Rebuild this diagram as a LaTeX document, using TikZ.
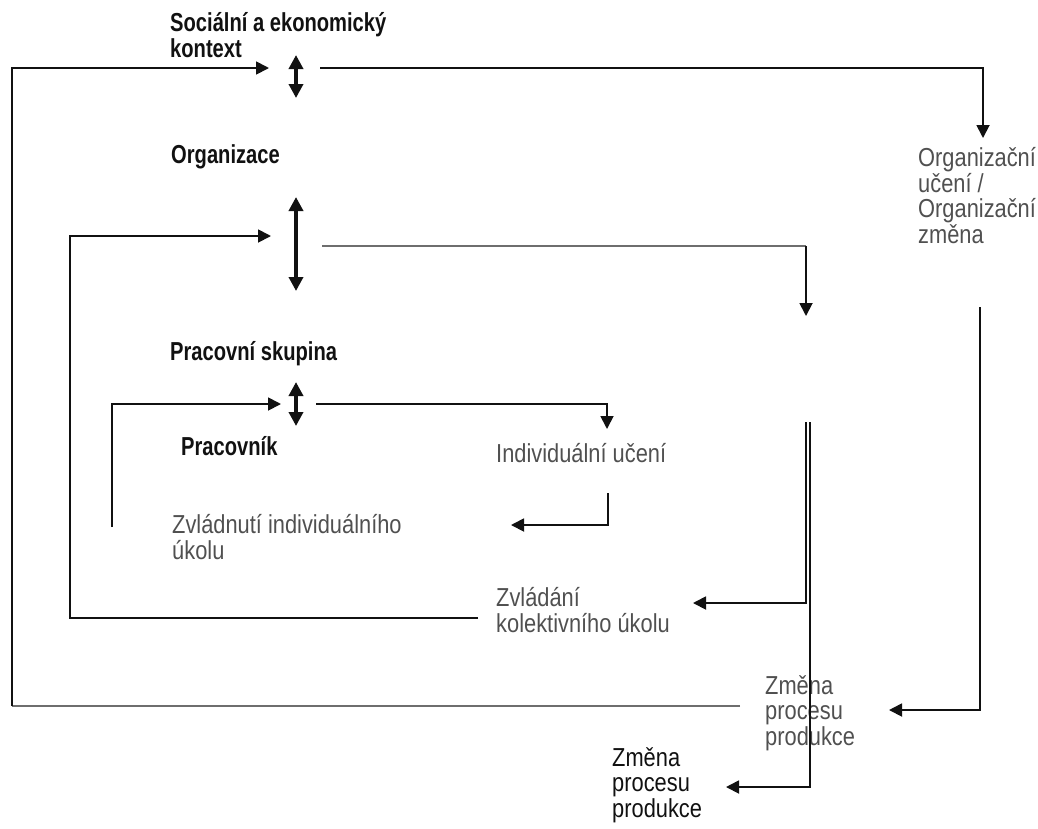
\documentclass[tikz,border=0pt]{standalone}
\usepackage{fontspec}
\setmainfont{Liberation Sans}[FakeStretch=0.84]
\newfontfamily\bfam{Liberation Sans}[FakeStretch=0.775]
\usetikzlibrary{arrows.meta}
\definecolor{txtgray}{HTML}{505050}
\definecolor{linegray}{HTML}{6E6E6E}
\definecolor{ink}{HTML}{111111}
\tikzset{
  lbl/.style={anchor=base west, inner sep=0pt, align=left, font=\fontsize{26}{25.5}\selectfont},
  lblgray/.style={lbl, text=txtgray},
  lblbold/.style={lbl, text=ink, font=\bfam\bfseries\fontsize{26}{25.5}\selectfont},
  conn/.style={draw=ink, line width=1.8pt},
  conngray/.style={draw=linegray, line width=2.6pt},
  tip/.style={-{Triangle[length=13pt,width=13pt]}},
  dbl/.style={draw=ink, {Triangle[length=14pt,width=14pt]}-{Triangle[length=14pt,width=14pt]}}
}
\begin{document}
\begin{tikzpicture}[x=1pt,y=-1pt]
\useasboundingbox (0,0) rectangle (1038,828);

% texts (base = baseline of last line)
\node[lblbold] (soc) at (170,57) {Sociální a ekonomický\\kontext};
\node[lblbold] (org) at (171,163) {Organizace};
\node[lblgray] (orgu) at (918,243) {Organizační\\učení /\\Organizační\\změna};
\node[lblbold] (skup) at (170,360) {Pracovní skupina};
\node[lblbold] (prac) at (181,455) {Pracovník};
\node[lblgray] (indu) at (496,462) {Individuální učení};
\node[lblgray] (zvlind) at (172,559) {Zvládnutí individuálního\\úkolu};
\node[lblgray] (zvlkol) at (496,632) {Zvládání\\kolektivního úkolu};
\node[lblgray] (zmA) at (765,745) {Změna\\procesu\\produkce};
\node[lbl, text=ink] (zmB) at (612,817) {Změna\\procesu\\produkce};

% coordinates
\coordinate (d1t) at (296,55);  \coordinate (d1b) at (296,98);
\coordinate (d2t) at (296,197); \coordinate (d2b) at (296,291);
\coordinate (d3t) at (296,382); \coordinate (d3b) at (296,426);

\coordinate (outerStart) at (740,706);
\coordinate (outerCorner) at (12,706);
\coordinate (outerIn) at (269,68);
\coordinate (topOut) at (320,68);
\coordinate (topIn) at (983,138);

\coordinate (midOut) at (322,246);
\coordinate (midCorner) at (806,246);
\coordinate (midIn) at (806,316);

\coordinate (loop2Start) at (478,618);
\coordinate (loop2Top) at (70,236);
\coordinate (loop2In) at (271,236);

\coordinate (loop3Start) at (112,527);
\coordinate (loop3In) at (281,404);
\coordinate (grpOut) at (316,404);
\coordinate (grpIn) at (607,429);

\coordinate (indOut) at (608,493);
\coordinate (indIn) at (511,525);

\coordinate (v1top) at (806,422);
\coordinate (v1in) at (693,603);
\coordinate (v2top) at (810,422);
\coordinate (v2in) at (726,787);

\coordinate (rTop) at (980,307);
\coordinate (rIn) at (889,710);

% double arrows
\draw[dbl, line width=3.8pt] (d1t) -- (d1b);
\draw[dbl, line width=4.6pt] (d2t) -- (d2b);
\draw[dbl, line width=3.8pt] (d3t) -- (d3b);

% outer loop
\draw[conngray] (outerStart) -- (outerCorner);
\draw[conn, tip] (outerCorner) |- (outerIn);
\draw[conn, tip] (topOut) -| (topIn);

% organisation level
\draw[conngray] (midOut) -- (midCorner);
\draw[conn, tip] (midCorner) -- (midIn);
\draw[conn, tip] (loop2Start) -| (loop2Top) -- (loop2In);

% group level
\draw[conn, tip] (loop3Start) |- (loop3In);
\draw[conn, tip] (grpOut) -| (grpIn);
\draw[conn, tip] (indOut) |- (indIn);

% right side
\draw[conn, tip] (v1top) |- (v1in);
\draw[conn, tip] (v2top) |- (v2in);
\draw[conn, tip] (rTop) |- (rIn);
\end{tikzpicture}
\end{document}
